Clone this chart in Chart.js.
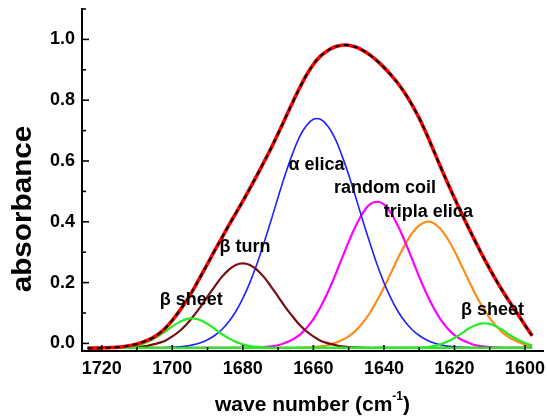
<!DOCTYPE html>
<html>
<head>
<meta charset="utf-8">
<script src="https://cdn.jsdelivr.net/npm/chart.js@4.4.1/dist/chart.umd.min.js"></script>
<style>
  html, body { margin: 0; padding: 0; background: #fff; }
  #wrap { width: 547px; height: 417px; }
</style>
</head>
<body>
<div id="wrap"><canvas id="c" width="547" height="417"></canvas></div>
<script>
// Wavenumber grid (cm^-1), high to low
const wavenumbers = [1724,1722,1720,1718,1716,1714,1712,1710,1708,1706,1704,1702,1700,1698,1696,1694,
  1692,1690,1688,1686,1684,1682,1680,1678,1676,1674,1672,1670,1668,1666,1664,1662,1660,1658,1656,1654,
  1652,1650,1648,1646,1644,1642,1640,1638,1636,1634,1632,1630,1628,1626,1624,1622,1620,1618,1616,1614,
  1612,1610,1608,1606,1604,1602,1600,1598];

// Measured amide I absorbance
const measured = [-0.016,-0.016,-0.015,-0.014,-0.013,-0.011,-0.007,-0.002,0.006,0.016,0.030,0.050,0.076,0.106,0.140,0.178,
  0.220,0.262,0.305,0.346,0.388,0.428,0.468,0.510,0.553,0.597,0.642,0.690,0.740,0.790,0.838,0.882,0.918,0.945,0.963,0.975,
  0.981,0.981,0.975,0.964,0.949,0.930,0.908,0.883,0.855,0.822,0.784,0.741,0.691,0.637,0.582,0.529,0.478,0.428,0.380,0.333,
  0.288,0.245,0.204,0.166,0.130,0.095,0.060,0.025];

// Sum of the fitted bands
const fitted = measured;

// Fitted component bands
const betaSheetHigh = [-0.015,-0.015,-0.015,-0.015,-0.014,-0.013,-0.010,-0.007,0.000,0.010,0.024,0.039,0.056,0.070,0.080,0.082,
  0.076,0.064,0.048,0.031,0.017,0.005,-0.003,-0.009,-0.011,-0.014,-0.015,-0.015,-0.015,-0.015,-0.015,-0.015,-0.015,-0.015,-0.015,-0.015,
  -0.015,-0.015,-0.015,-0.015,-0.015,-0.015,-0.015,-0.015,-0.015,-0.015,-0.015,-0.015,-0.015,-0.015,-0.015,-0.015,-0.015,-0.015,-0.015,-0.015,
  -0.015,-0.015,-0.015,-0.015,-0.015,-0.015,-0.015,-0.015];

const betaTurn = [-0.015,-0.015,-0.015,-0.015,-0.015,-0.014,-0.013,-0.012,-0.010,-0.005,0.001,0.009,0.023,0.040,0.062,0.090,
  0.120,0.154,0.187,0.218,0.242,0.258,0.263,0.258,0.242,0.218,0.187,0.154,0.120,0.090,0.062,0.040,0.023,0.009,0.001,-0.005,
  -0.010,-0.012,-0.013,-0.014,-0.015,-0.015,-0.015,-0.015,-0.015,-0.015,-0.015,-0.015,-0.015,-0.015,-0.015,-0.015,-0.015,-0.015,-0.015,-0.015,
  -0.015,-0.015,-0.015,-0.015,-0.015,-0.015,-0.015,-0.015];

const alphaHelix = [-0.015,-0.015,-0.015,-0.015,-0.015,-0.015,-0.015,-0.015,-0.015,-0.015,-0.015,-0.014,-0.013,-0.011,-0.009,-0.004,
  0.002,0.012,0.026,0.045,0.071,0.105,0.148,0.200,0.261,0.331,0.404,0.481,0.555,0.621,0.678,0.716,0.737,0.737,0.716,0.678,
  0.621,0.555,0.481,0.404,0.331,0.261,0.200,0.148,0.105,0.071,0.045,0.026,0.012,0.002,-0.004,-0.009,-0.011,-0.013,-0.014,-0.015,
  -0.015,-0.015,-0.015,-0.015,-0.015,-0.015,-0.015,-0.015];

const randomCoil = [-0.015,-0.015,-0.015,-0.015,-0.015,-0.015,-0.015,-0.015,-0.015,-0.015,-0.015,-0.015,-0.015,-0.015,-0.015,-0.015,
  -0.015,-0.015,-0.015,-0.015,-0.015,-0.015,-0.015,-0.015,-0.014,-0.012,-0.010,-0.006,0.002,0.012,0.027,0.050,0.080,0.119,0.166,0.219,
  0.277,0.334,0.386,0.429,0.457,0.466,0.457,0.429,0.386,0.334,0.277,0.219,0.166,0.119,0.080,0.050,0.027,0.012,0.002,-0.006,
  -0.010,-0.012,-0.014,-0.015,-0.015,-0.015,-0.015,-0.015];

const tripleHelix = [-0.015,-0.015,-0.015,-0.015,-0.015,-0.015,-0.015,-0.015,-0.015,-0.015,-0.015,-0.015,-0.015,-0.015,-0.015,-0.015,
  -0.015,-0.015,-0.015,-0.015,-0.015,-0.015,-0.015,-0.015,-0.015,-0.015,-0.015,-0.015,-0.015,-0.015,-0.014,-0.013,-0.012,-0.010,-0.006,0.001,
  0.010,0.023,0.042,0.068,0.100,0.140,0.184,0.232,0.281,0.325,0.363,0.388,0.400,0.396,0.377,0.345,0.304,0.256,0.208,0.160,
  0.119,0.083,0.055,0.032,0.016,0.005,-0.004,-0.008];

const betaSheetLow = [-0.015,-0.015,-0.015,-0.015,-0.015,-0.015,-0.015,-0.015,-0.015,-0.015,-0.015,-0.015,-0.015,-0.015,-0.015,-0.015,
  -0.015,-0.015,-0.015,-0.015,-0.015,-0.015,-0.015,-0.015,-0.015,-0.015,-0.015,-0.015,-0.015,-0.015,-0.015,-0.015,-0.015,-0.015,-0.015,-0.015,
  -0.015,-0.015,-0.015,-0.015,-0.015,-0.015,-0.015,-0.015,-0.015,-0.015,-0.015,-0.014,-0.013,-0.009,-0.003,0.006,0.018,0.033,0.049,0.060,
  0.066,0.064,0.055,0.041,0.025,0.012,0.001,-0.006];

// Axis ticks
const xMajorTicks = [1720,1700,1680,1660,1640,1620,1600];
const xMinorTicks = [1710,1690,1670,1650,1630,1610];
const yMajorTicks = [0.0,0.2,0.4,0.6,0.8,1.0];
const yMinorTicks = [0.1,0.3,0.5,0.7,0.9,1.1];

// Band names
const bandNames = ['\u03b2 sheet','\u03b2 turn','\u03b1 elica','random coil','tripla elica','\u03b2 sheet'];

const FONT = "'Liberation Sans', Arial, Helvetica, sans-serif";

function pts(ys) { return wavenumbers.map((w, i) => ({ x: w, y: ys[i] })); }

// where each band name sits, in data units
const bandLabelAnchors = [
  { x: 1694.6, y: 0.142 },
  { x: 1679.4, y: 0.318 },
  { x: 1659.1, y: 0.587 },
  { x: 1639.7, y: 0.510 },
  { x: 1627.4, y: 0.433 },
  { x: 1609.2, y: 0.110 }
];

const decorations = {
  id: 'decorations',
  afterDraw(chart) {
    const { ctx, chartArea: a, scales: { x, y } } = chart;
    ctx.save();
    ctx.strokeStyle = '#000';
    ctx.lineWidth = 1.6;
    // inward tick marks
    const yTick = (v, len) => {
      const p = y.getPixelForValue(v);
      ctx.beginPath(); ctx.moveTo(a.left, p); ctx.lineTo(a.left + len, p); ctx.stroke();
    };
    const xTick = (v, len) => {
      const p = x.getPixelForValue(v);
      ctx.beginPath(); ctx.moveTo(p, a.bottom); ctx.lineTo(p, a.bottom - len); ctx.stroke();
    };
    yMajorTicks.forEach(v => yTick(v, 7));
    yMinorTicks.forEach(v => yTick(v, 4));
    xMajorTicks.forEach(v => xTick(v, 6));
    xMinorTicks.forEach(v => xTick(v, 4));

    // band names
    ctx.fillStyle = '#000';
    ctx.font = 'bold 18px ' + FONT;
    ctx.textAlign = 'center';
    ctx.textBaseline = 'middle';
    bandNames.forEach((t, i) => {
      const an = bandLabelAnchors[i];
      ctx.fillText(t, x.getPixelForValue(an.x), y.getPixelForValue(an.y));
    });

    // y axis title
    ctx.save();
    ctx.translate(24, 209);
    ctx.rotate(-Math.PI / 2);
    ctx.scale(1.1, 1);
    ctx.font = 'bold 27px ' + FONT;
    ctx.fillText('absorbance', 0, 0);
    ctx.restore();

    // x axis title with superscript
    const main = 'wave number (cm';
    const sup = '-1';
    const close = ')';
    ctx.font = 'bold 21px ' + FONT;
    const w1 = ctx.measureText(main).width;
    const w3 = ctx.measureText(close).width;
    ctx.font = 'bold 12px ' + FONT;
    const w2 = ctx.measureText(sup).width;
    const cx = (a.left + a.right) / 2;
    let sx = cx - (w1 + w2 + w3) / 2;
    const by = 411;
    ctx.textAlign = 'left';
    ctx.textBaseline = 'alphabetic';
    ctx.font = 'bold 21px ' + FONT;
    ctx.fillText(main, sx, by);
    ctx.font = 'bold 12px ' + FONT;
    ctx.fillText(sup, sx + w1, by - 11);
    ctx.font = 'bold 21px ' + FONT;
    ctx.fillText(close, sx + w1 + w2, by);
    ctx.restore();
  }
};

const line = (data, color, width, extra) => Object.assign({
  data: pts(data), borderColor: color, borderWidth: width, pointRadius: 0,
  fill: false, tension: 0.4
}, extra || {});

const noPad = s => { s.paddingTop = 0; s.paddingBottom = 0; s.paddingLeft = 0; s.paddingRight = 0; };

new Chart(document.getElementById('c'), {
  type: 'line',
  data: {
    datasets: [
      line(fitted, '#000000', 2, { borderDash: [5, 4] }),
      line(measured, '#ff0000', 3.6),
      line(betaSheetHigh, '#22ee22', 2.2),
      line(betaSheetLow, '#22ee22', 2.2),
      line(betaTurn, '#7a0e0e', 2.2),
      line(alphaHelix, '#1f1fff', 1.6),
      line(randomCoil, '#ff00ff', 2.2),
      line(tripleHelix, '#ff8c1a', 2.2)
    ]
  },
  options: {
    responsive: false,
    animation: false,
    layout: { padding: { top: 9, right: 4, left: 0, bottom: 0 } },
    plugins: { legend: { display: false }, tooltip: { enabled: false } },
    scales: {
      x: {
        type: 'linear', reverse: true, min: 1594.9, max: 1725.6,
        grid: { display: false, drawTicks: false },
        border: { display: true, color: '#000', width: 2 },
        ticks: { color: '#000', font: { family: FONT, size: 18, weight: 'bold' }, padding: 7, maxRotation: 0, autoSkip: false,
                 callback: v => String(v) },
        afterBuildTicks: s => { s.ticks = xMajorTicks.map(v => ({ value: v })); },
        afterFit: s => { s.height = 66; noPad(s); }
      },
      y: {
        type: 'linear', min: -0.025, max: 1.1,
        grid: { display: false, drawTicks: false },
        border: { display: true, color: '#000', width: 2 },
        ticks: { color: '#000', font: { family: FONT, size: 18, weight: 'bold' }, padding: 7,
                 callback: v => Number(v).toFixed(1) },
        afterBuildTicks: s => { s.ticks = yMajorTicks.map(v => ({ value: v })); },
        afterFit: s => { s.width = 82; noPad(s); }
      }
    }
  },
  plugins: [decorations]
});
</script>
</body>
</html>
